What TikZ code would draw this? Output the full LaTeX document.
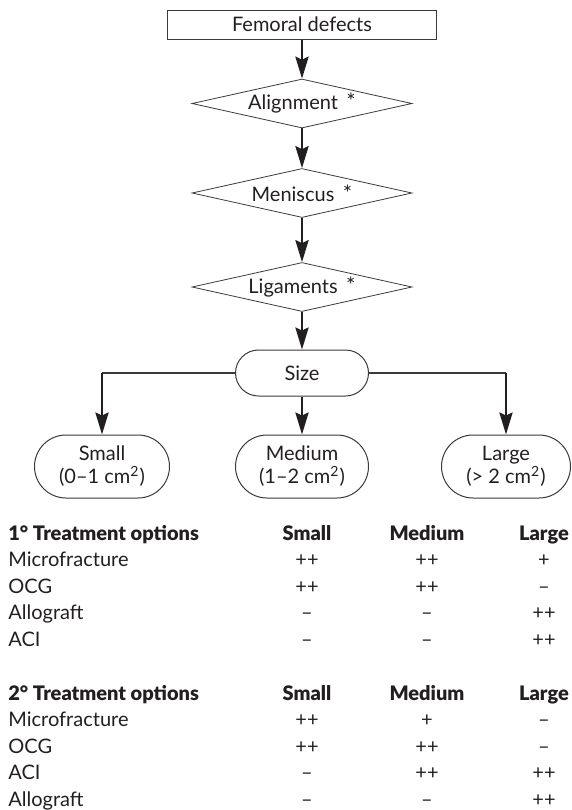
\documentclass[tikz,border=0pt]{standalone}
\usepackage{fontspec}
\setmainfont{Lato}
\newfontfamily\heavy{Lato Black}
\usetikzlibrary{shapes.geometric,shapes.misc,arrows.meta}
\definecolor{ink}{HTML}{231F20}
\definecolor{linec}{HTML}{3A3A3A}
\begin{document}
\begin{tikzpicture}[x=0.5pt,y=-0.5pt,
  every node/.style={text=ink, font=\fontsize{10}{11.5}\selectfont},
  box/.style={draw=linec, line width=0.5pt, minimum width=134.5pt, minimum height=14.5pt, inner sep=0pt},
  dia/.style={diamond, draw=linec, line width=0.4pt, aspect=4.5, minimum width=110pt, minimum height=24.5pt, inner sep=0pt},
  pill/.style={rounded rectangle, draw=linec, line width=0.5pt, minimum height=31.5pt, inner sep=0pt, align=center},
  arr/.style={-{Stealth[length=11pt,width=6.6pt,inset=1.5pt]}, line width=1.1pt, draw=ink},
  thinline/.style={line width=0.6pt, draw=linec},
  hd/.style={anchor=base, font=\fontsize{10}{11.5}\selectfont\heavy},
  lab/.style={anchor=base west, inner xsep=0pt},
  val/.style={anchor=base}]
\useasboundingbox (0,0) rectangle (572,810);

% flow chart
\node[box] (fem) at (302,24.5) {Femoral defects};
\node[dia] (ali) at (302,103.5) {Alignment\, {\fontsize{11}{11}\selectfont*}};
\node[dia] (men) at (302,193) {Meniscus\, {\fontsize{11}{11}\selectfont*}};
\node[dia] (lig) at (302,287) {Ligaments\, {\fontsize{11}{11}\selectfont*}};
\node[pill, minimum width=66.5pt, minimum height=23pt] (size) at (302,373) {Size};
\node[pill, minimum width=67.5pt] (small) at (102,466.5) {Small\\(0–1 cm\textsuperscript{2})};
\node[pill, minimum width=66.5pt] (med) at (302,466.5) {Medium\\(1–2 cm\textsuperscript{2})};
\node[pill, minimum width=64.5pt] (large) at (506,466.5) {Large\\(> 2 cm\textsuperscript{2})};

\draw[arr] (fem.south) -- (ali.north);
\draw[arr] (ali.south) -- (men.north);
\draw[arr] (men.south) -- (lig.north);
\draw[arr] (lig.south) -- (size.north);
\coordinate (ks) at (small.north |- size.west);
\coordinate (kl) at (large.north |- size.east);
\draw[thinline] (size.west) -- (ks);
\draw[thinline] (size.east) -- (kl);
\draw[arr] (ks) -- (small.north);
\draw[arr] (kl) -- (large.north);
\draw[arr] (size.south) -- (med.north);

% table 1
\node[hd, anchor=base west, inner xsep=0pt] (h1) at (8,540.5) {1° Treatment options};
\node[hd] (h1s) at (307,540.5) {Small};
\node[hd] (h1m) at (427,540.5) {Medium};
\node[hd] (h1l) at (544,540.5) {Large};

\node[lab] (a1) at (8,566) {Microfracture};
\node[val] (a1s) at (307,566) {++};
\node[val] (a1m) at (427,566) {++};
\node[val] (a1l) at (544,566) {+};

\node[lab] (a2) at (8,593) {OCG};
\node[val] (a2s) at (307,593) {++};
\node[val] (a2m) at (427,593) {++};
\node[val] (a2l) at (544,593) {–};

\node[lab] (a3) at (8,619.5) {Allograft};
\node[val] (a3s) at (307,619.5) {–};
\node[val] (a3m) at (427,619.5) {–};
\node[val] (a3l) at (544,619.5) {++};

\node[lab] (a4) at (8,646) {ACI};
\node[val] (a4s) at (307,646) {–};
\node[val] (a4m) at (427,646) {–};
\node[val] (a4l) at (544,646) {++};

% table 2
\node[hd, anchor=base west, inner xsep=0pt] (h2) at (8,700) {2° Treatment options};
\node[hd] (h2s) at (307,700) {Small};
\node[hd] (h2m) at (427,700) {Medium};
\node[hd] (h2l) at (544,700) {Large};

\node[lab] (b1) at (8,726.5) {Microfracture};
\node[val] (b1s) at (307,726.5) {++};
\node[val] (b1m) at (427,726.5) {+};
\node[val] (b1l) at (544,726.5) {–};

\node[lab] (b2) at (8,753) {OCG};
\node[val] (b2s) at (307,753) {++};
\node[val] (b2m) at (427,753) {++};
\node[val] (b2l) at (544,753) {–};

\node[lab] (b3) at (8,779.5) {ACI};
\node[val] (b3s) at (307,779.5) {–};
\node[val] (b3m) at (427,779.5) {++};
\node[val] (b3l) at (544,779.5) {++};

\node[lab] (b4) at (8,806) {Allograft};
\node[val] (b4s) at (307,806) {–};
\node[val] (b4m) at (427,806) {–};
\node[val] (b4l) at (544,806) {++};
\end{tikzpicture}
\end{document}
